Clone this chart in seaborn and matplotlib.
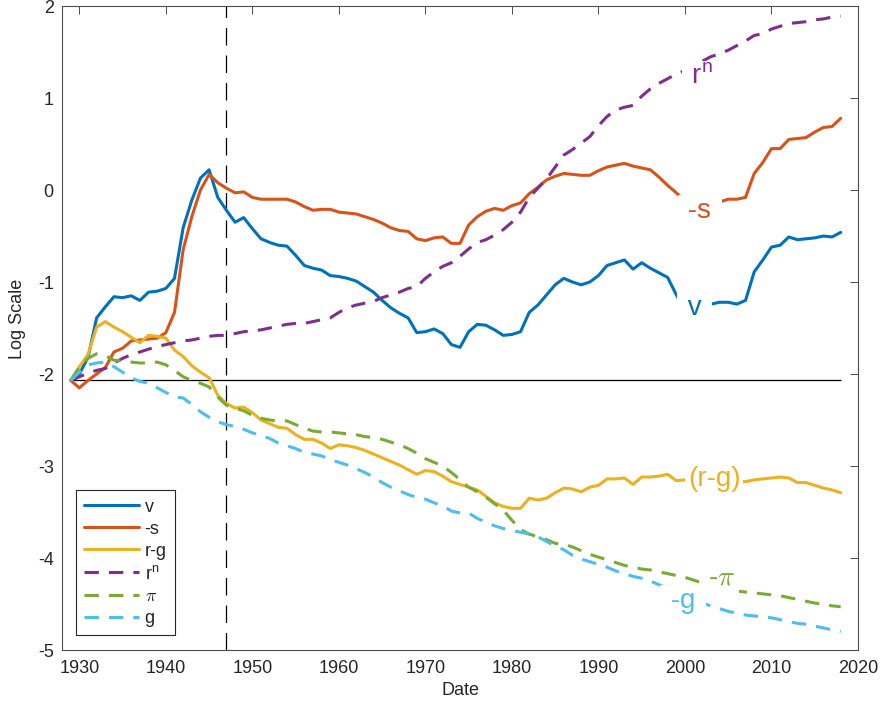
import numpy as np
import pandas as pd
import matplotlib
matplotlib.use("Agg")
import matplotlib.pyplot as plt
import seaborn as sns

# === Données (échelle log) ===
years = list(range(1929, 2019))

v = [-2.07, -2.00, -1.82, -1.39, -1.27, -1.16, -1.17, -1.15, -1.20, -1.11,
     -1.10, -1.07, -0.96, -0.41, -0.11, 0.13, 0.22, -0.08, -0.22, -0.35,
     -0.30, -0.42, -0.53, -0.57, -0.60, -0.61, -0.71, -0.82, -0.85, -0.87,
     -0.93, -0.94, -0.96, -0.99, -1.05, -1.11, -1.20, -1.28, -1.34, -1.39,
     -1.55, -1.54, -1.51, -1.56, -1.68, -1.71, -1.54, -1.46, -1.47, -1.52,
     -1.58, -1.57, -1.54, -1.33, -1.25, -1.14, -1.03, -0.96, -1.00, -1.03,
     -1.00, -0.93, -0.82, -0.79, -0.76, -0.86, -0.79, -0.85, -0.90, -0.95,
     -1.14, -1.30, -1.32, -1.27, -1.24, -1.22, -1.22, -1.24, -1.20, -0.89,
     -0.76, -0.62, -0.60, -0.51, -0.54, -0.53, -0.52, -0.50, -0.51, -0.46]

minus_s = [-2.07, -2.15, -2.07, -2.00, -1.93, -1.76, -1.72, -1.64, -1.63, -1.62,
           -1.61, -1.55, -1.33, -0.65, -0.29, 0.00, 0.17, 0.08, 0.02, -0.03,
           -0.02, -0.08, -0.10, -0.10, -0.10, -0.10, -0.13, -0.18, -0.22, -0.21,
           -0.21, -0.24, -0.25, -0.26, -0.29, -0.32, -0.36, -0.41, -0.44, -0.45,
           -0.53, -0.55, -0.52, -0.51, -0.58, -0.58, -0.38, -0.29, -0.23, -0.20,
           -0.22, -0.17, -0.14, -0.04, 0.03, 0.11, 0.15, 0.18, 0.17, 0.16,
           0.16, 0.21, 0.25, 0.27, 0.29, 0.26, 0.24, 0.22, 0.14, 0.05,
           -0.03, -0.12, -0.17, -0.18, -0.16, -0.13, -0.10, -0.10, -0.08, 0.18,
           0.30, 0.45, 0.45, 0.55, 0.56, 0.57, 0.63, 0.68, 0.69, 0.78]

r_minus_g = [-2.07, -1.92, -1.79, -1.49, -1.43, -1.49, -1.54, -1.60, -1.66, -1.58,
             -1.59, -1.61, -1.74, -1.81, -1.91, -1.98, -2.04, -2.23, -2.32, -2.37,
             -2.36, -2.42, -2.50, -2.54, -2.58, -2.59, -2.66, -2.71, -2.71, -2.75,
             -2.81, -2.77, -2.78, -2.80, -2.83, -2.87, -2.91, -2.95, -2.99, -3.04,
             -3.09, -3.05, -3.06, -3.11, -3.17, -3.20, -3.23, -3.26, -3.33, -3.40,
             -3.44, -3.46, -3.46, -3.35, -3.37, -3.35, -3.29, -3.24, -3.25, -3.28,
             -3.23, -3.21, -3.14, -3.14, -3.13, -3.20, -3.12, -3.12, -3.11, -3.09,
             -3.16, -3.15, -3.16, -3.17, -3.16, -3.17, -3.17, -3.17, -3.17, -3.15,
             -3.14, -3.13, -3.12, -3.13, -3.18, -3.18, -3.21, -3.24, -3.26, -3.29]

r_n = [-2.07, -2.03, -1.99, -1.96, -1.94, -1.88, -1.83, -1.79, -1.76, -1.73,
       -1.70, -1.68, -1.66, -1.64, -1.63, -1.61, -1.59, -1.58, -1.58, -1.56,
       -1.54, -1.53, -1.52, -1.50, -1.48, -1.46, -1.45, -1.45, -1.43, -1.41,
       -1.39, -1.33, -1.28, -1.25, -1.23, -1.21, -1.17, -1.14, -1.11, -1.07,
       -1.05, -0.96, -0.89, -0.83, -0.79, -0.72, -0.64, -0.57, -0.54, -0.49,
       -0.43, -0.35, -0.24, -0.08, 0.02, 0.12, 0.25, 0.38, 0.44, 0.51,
       0.58, 0.70, 0.80, 0.87, 0.90, 0.92, 1.02, 1.10, 1.16, 1.21,
       1.26, 1.30, 1.35, 1.40, 1.45, 1.48, 1.52, 1.57, 1.62, 1.68,
       1.70, 1.75, 1.78, 1.81, 1.82, 1.83, 1.85, 1.86, 1.88, 1.89]

pi = [-2.07, -1.93, -1.83, -1.78, -1.80, -1.85, -1.86, -1.87, -1.88, -1.88,
      -1.87, -1.90, -1.96, -2.03, -2.07, -2.10, -2.14, -2.25, -2.34, -2.37,
      -2.40, -2.45, -2.48, -2.50, -2.51, -2.51, -2.55, -2.59, -2.62, -2.63,
      -2.63, -2.64, -2.65, -2.66, -2.68, -2.69, -2.71, -2.74, -2.77, -2.81,
      -2.86, -2.92, -2.96, -3.00, -3.07, -3.15, -3.23, -3.28, -3.34, -3.41,
      -3.48, -3.59, -3.69, -3.74, -3.77, -3.80, -3.84, -3.85, -3.88, -3.92,
      -3.96, -3.99, -4.02, -4.05, -4.08, -4.10, -4.12, -4.13, -4.15, -4.17,
      -4.19, -4.21, -4.24, -4.27, -4.30, -4.32, -4.34, -4.36, -4.37, -4.38,
      -4.39, -4.40, -4.41, -4.43, -4.45, -4.47, -4.49, -4.50, -4.52, -4.53]

g = [-2.07, -1.98, -1.90, -1.88, -1.87, -1.92, -1.98, -2.04, -2.08, -2.10,
     -2.15, -2.20, -2.25, -2.26, -2.33, -2.41, -2.47, -2.52, -2.55, -2.57,
     -2.60, -2.64, -2.67, -2.70, -2.75, -2.78, -2.81, -2.85, -2.87, -2.89,
     -2.93, -2.96, -2.99, -3.03, -3.07, -3.12, -3.18, -3.23, -3.27, -3.31,
     -3.34, -3.36, -3.40, -3.43, -3.49, -3.51, -3.51, -3.57, -3.61, -3.65,
     -3.68, -3.70, -3.72, -3.74, -3.77, -3.82, -3.87, -3.91, -3.97, -4.01,
     -4.04, -4.07, -4.10, -4.14, -4.17, -4.20, -4.22, -4.25, -4.29, -4.33,
     -4.38, -4.42, -4.46, -4.49, -4.52, -4.55, -4.58, -4.60, -4.62, -4.63,
     -4.64, -4.65, -4.67, -4.69, -4.71, -4.72, -4.74, -4.76, -4.78, -4.80]

break_year = 1947

series_names = ["v", "-s", "r-g", r"$\mathregular{r^n}$", r"$\pi$", "g"]
series_vals = [v, minus_s, r_minus_g, r_n, pi, g]
colors = ["#0072BD", "#D95319", "#EDB120", "#7E2F8E", "#77AC30", "#4DBEEE"]
dashed = [False, False, False, True, True, True]

# étiquettes dans le graphique : (texte, x, y)
inline = [
    (r" $\mathregular{r^n}$ ", 2001.7, 1.16, "#7E2F8E"),
    (" -s ", 2001.7, -0.30, "#D95319"),
    (" v ", 2001.1, -1.36, "#0072BD"),
    ("(r-g)", 2003.4, -3.22, "#EDB120"),
    (r" -$\pi$ ", 2003.9, -4.29, "#77AC30"),
    (" -g ", 1999.8, -4.54, "#4DBEEE"),
]

# === Style ===
sns.set_style("white")
plt.rcParams["font.family"] = ["Liberation Sans", "DejaVu Sans"]
plt.rcParams["axes.unicode_minus"] = False
plt.rcParams["mathtext.fontset"] = "custom"
plt.rcParams["mathtext.rm"] = "Liberation Sans"
plt.rcParams["mathtext.it"] = "Liberation Sans:italic"
axis_col = "#4d4d4d"

fig = plt.figure(figsize=(8.81, 7.1), dpi=100)
ax = fig.add_axes([0.0704, 0.0845, 0.9035, 0.907])

for name, vals, col, dsh in zip(series_names, series_vals, colors, dashed):
    ls = (0, (4.7, 3.3)) if dsh else "-"
    sns.lineplot(x=years, y=vals, color=col, linewidth=2.2, linestyle=ls,
                 label=name, ax=ax)

# ligne horizontale au niveau initial et coupure verticale
ax.hlines(v[0], years[0], years[-1], colors="black", linewidth=0.9, zorder=1)
ax.axvline(break_year, color="black", linewidth=0.9, linestyle=(0, (14, 8)), zorder=1)

for txt, x, y, col in inline:
    t = ax.text(x, y, txt, color=col, fontsize=20, ha="center", va="baseline",
                bbox=dict(boxstyle="square,pad=0.1", facecolor="white", edgecolor="none"),
                zorder=5)
    if "pi" in txt:
        t.set_math_fontfamily("cm")

# === Axes ===
ax.set_xlim(1928, 2020)
ax.set_ylim(-5, 2)
ax.set_xticks(np.arange(1930, 2021, 10))
ax.set_yticks(np.arange(-5, 3, 1))
ax.tick_params(direction="in", length=5.8, width=0.7, color=axis_col,
               labelsize=13, labelcolor="#262626", top=True, right=True)
ax.tick_params(axis="x", pad=7)
ax.tick_params(axis="y", pad=6)
for sp in ax.spines.values():
    sp.set_color(axis_col)
    sp.set_linewidth(0.8)

ax.set_xlabel("Date", fontsize=13, color="#262626", labelpad=4)
ax.set_ylabel("Log Scale", fontsize=13, color="#262626")
ax.yaxis.set_label_coords(-0.045, 0.514)

leg = ax.legend(loc="lower left", bbox_to_anchor=(0.0176, 0.0233), borderaxespad=0,
                fontsize=13, frameon=True, fancybox=False, framealpha=1,
                edgecolor="#262626", handlelength=3.05, handletextpad=0.3,
                labelspacing=0.28, borderpad=0.45)
leg.get_frame().set_linewidth(0.8)
for t in leg.get_texts():
    if "pi" in t.get_text():
        t.set_math_fontfamily("cm")

plt.savefig("out.png", dpi=100)
